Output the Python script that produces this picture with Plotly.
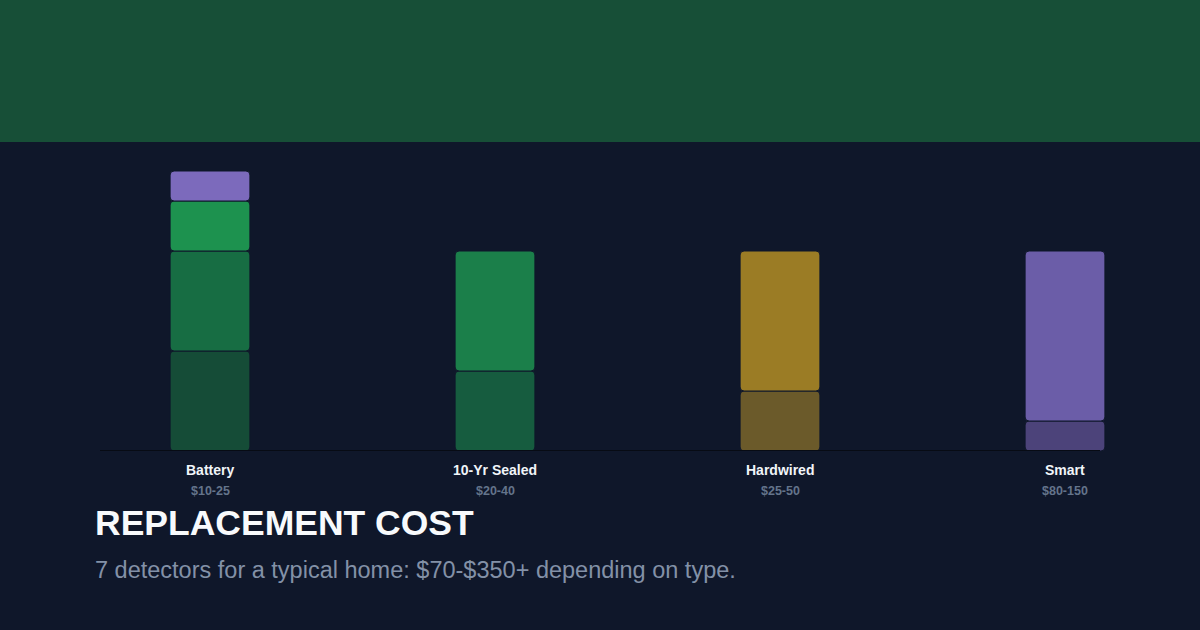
import numpy as np
import plotly.graph_objects as go

# detector types and their price ranges
types = ["Battery", "10-Yr Sealed", "Hardwired", "Smart"]
prices = ["$10-25", "$20-40", "$25-50", "$80-150"]

# stacked segment heights, bottom layer first (None = no segment)
layer1 = [10, 8, 6, 3]
layer2 = [10, 12, 14, 17]
layer3 = [5, None, None, None]
layer4 = [3, None, None, None]

layer1_colors = ["#154c37", "#165c3f", "#6b5a2a", "#4c437a"]
layer2_colors = ["#176d43", "#1b7f4a", "#9b7c25", "#6b5da8"]
layer3_colors = ["#1d924f"] * 4
layer4_colors = ["#7c6abc"] * 4

BG = "#0f172a"
W, H = 1200, 630


def py(px):
    # pixel row from top -> paper y
    return (H - px) / H


layers = [layer1, layer2, layer3, layer4]
colors = [layer1_colors, layer2_colors, layer3_colors, layer4_colors]

fig = go.Figure()
base = np.zeros(len(types))
for vals, cols in zip(layers, colors):
    v = np.array([np.nan if x is None else x for x in vals], dtype=float)
    fig.add_trace(go.Bar(
        x=types,
        y=v,
        base=base.copy(),
        width=0.28,
        marker={'color': cols, 'cornerradius': 4,
                'line': {'color': BG, 'width': 1}},
        showlegend=False,
        hoverinfo='skip',
    ))
    base = base + np.nan_to_num(v)

# labels under each bar
for t, p in zip(types, prices):
    fig.add_annotation(x=t, y=py(480), yref='paper', text="<b>" + t + "</b>",
                       showarrow=False, font={'size': 14, 'color': '#f1f5f9'})
    fig.add_annotation(x=t, y=py(500), yref='paper', text="<b>" + p + "</b>",
                       showarrow=False, font={'size': 12.5, 'color': '#64748b'})

fig.add_annotation(x=93 / W, y=py(545), xref='paper', yref='paper',
                   text="<b>REPLACEMENT COST</b>", showarrow=False, xanchor='left',
                   font={'size': 35.5, 'color': '#f8fafc'})
fig.add_annotation(x=93 / W, y=py(585), xref='paper', yref='paper',
                   text="7 detectors for a typical home: $70-$350+ depending on type.",
                   showarrow=False, xanchor='left',
                   font={'size': 23.5, 'color': '#8391a7'})

# green header band
fig.add_shape(type='rect', xref='paper', yref='paper', x0=0, x1=1,
              y0=py(142), y1=1, fillcolor='#174f37', line={'width': 0},
              layer='below')
# baseline
fig.add_shape(type='line', xref='paper', yref='y', x0=100 / W, x1=1100 / W,
              y0=0, y1=0, line={'color': '#070b14', 'width': 2}, layer='above')

fig.update_layout(
    width=W, height=H,
    margin={'l': 0, 'r': 0, 't': 0, 'b': 0},
    paper_bgcolor=BG, plot_bgcolor=BG,
    barmode='overlay',
    font={'family': 'Liberation Sans'},
    xaxis={'domain': [0, 1], 'range': [-210 / 285, 990 / 285],
           'showticklabels': False, 'showgrid': False, 'zeroline': False},
    yaxis={'domain': [py(451), py(142)], 'range': [0, 30.9],
           'showticklabels': False, 'showgrid': False, 'zeroline': False},
)

fig.write_html("out.html", config={'displayModeBar': False},
               post_script="document.body.style.margin='0';")
